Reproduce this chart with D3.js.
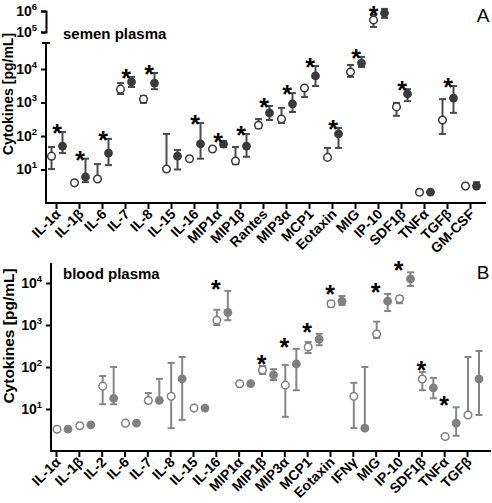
<!DOCTYPE html>
<html><head><meta charset="utf-8">
<script src="https://cdn.jsdelivr.net/npm/d3@7"></script>
<style>
body{margin:0;background:#fff}
text{font-family:"Liberation Sans",Arial,Helvetica,sans-serif}
</style>
</head><body>
<svg id="c" width="492" height="503"></svg>
<script>
// ---------- Panel A: semen plasma ----------
const catsA = ["IL-1α","IL-1β","IL-6","IL-7","IL-8","IL-15","IL-16","MIP1α","MIP1β","Rantes","MIP3α","MCP1","Eotaxin","MIG","IP-10","SDF1β","TNFα","TGFβ","GM-CSF"];
const openA    = [25, 4, 5.2, 2500, 1260, 10.3, 21, 41, 18, 210, 320, 2700, 23, 8100, 370000, 740, 2.1, 300, 3.2];
const openALo  = [10.3, null, null, 1800, 970, null, null, null, 14.5, 173, 245, 1450, null, 5800, 174000, 400, null, 115, null];
const openAHi  = [47, null, 14.5, 3800, 1550, 115, null, null, 47, 320, 690, 3100, 44, 13200, 650000, 970, null, 1260, null];
const filledA   = [50, 6, 31, 4100, 3800, 25, 58, 57, 50, 490, 910, 6200, 115, 15000, 800000, 1800, 2.1, 1360, 3.2];
const filledALo = [31, 4.2, 13.5, 2900, 2500, 10, 21, 47, 24, 300, 520, 3100, 44, 11500, 470000, 1100, null, 490, null];
const filledAHi = [132, 21, 82, 5800, 7600, 38, 245, 71, 115, 790, 1900, 12300, 175, 23000, 1260000, 2500, null, 3100, 4.2];
const starA = [1,1,1,1,1,0,1,1,1,1,1,1,1,1,1,1,0,1,0];
const ticksALow = [10, 100, 1000, 10000];
const ticksAUp = [100000, 1000000];

// ---------- Panel B: blood plasma ----------
const catsB = ["IL-1α","IL-1β","IL-2","IL-6","IL-7","IL-8","IL-15","IL-16","MIP1α","MIP1β","MIP3α","MCP1","Eotaxin","IFNγ","MIG","IP-10","SDF1β","TNFα","TGFβ"];
const openB    = [3.3, 4.0, 35, 4.6, 16, 20, 10.5, 1300, 40, 85, 37, 300, 3200, 20, 610, 4200, 52, 2.2, 7.2];
const openBLo  = [null, null, 13, null, null, 3.5, null, 1000, null, 68, 6.5, 215, 2700, 3.5, 490, 3300, 28, null, null];
const openBHi  = [null, null, 61, null, 24, 125, null, 2300, null, 105, 112, 395, 3700, 42, 1200, 4900, 76, 2.4, 173];
const filledB   = [3.3, 4.2, 18, 4.6, 16, 52, 10.5, 2000, 40, 65, 118, 460, 3700, 3.5, 3700, 12500, 32, 4.6, 52];
const filledBLo = [null, null, 13, null, null, 5.5, null, 1300, null, 49, 28, 330, 3000, null, 2150, 8500, 18, 2.3, 7.2];
const filledBHi = [null, null, 100, null, 52, 173, null, 6500, null, 89, 270, 615, 4900, 100, 5500, 18000, 55, 11, 240];
const starB = [0,0,0,0,0,0,0,1,0,1,1,1,1,0,1,1,1,1,0];
const ticksB = [10, 100, 1000, 10000];

const svg = d3.select("#c");

function supLabels(sel) {
  sel.selectAll(".tick text").each(function(d) {
    const t = d3.select(this);
    t.text(null).attr("font-size", 14).attr("font-weight", "bold").attr("fill", "#000");
    t.append("tspan").text("10");
    t.append("tspan").attr("dy", -6).attr("font-size", 9.5).text(Math.round(Math.log10(d)));
  });
}

function drawPanel(o) {
  const g = svg.append("g");
  const x = d3.scalePoint().domain(o.cats).range(o.xRange);
  const yOf = o.y;

  const la = g.append("g").attr("transform", `translate(${o.axisX},0)`)
    .call(d3.axisLeft(o.yMain).tickValues(o.ticks).tickSize(5).tickSizeOuter(0).tickPadding(4));
  la.select(".domain").remove();
  la.selectAll(".tick line").attr("stroke", "#000").attr("stroke-width", 2);
  supLabels(la);
  g.append("line").attr("x1", o.axisX).attr("x2", o.axisX).attr("y1", o.baseY + 1).attr("y2", o.axisTop)
    .attr("stroke", "#000").attr("stroke-width", 2);
  if (o.topCap) {
    g.append("line").attr("x1", o.axisX - 4).attr("x2", o.axisX + 4).attr("y1", o.axisTop).attr("y2", o.axisTop)
      .attr("stroke", "#000").attr("stroke-width", 2);
  }
  if (o.yUp) {
    const ua = g.append("g").attr("transform", `translate(${o.axisX},0)`)
      .call(d3.axisLeft(o.yUp).tickValues(o.ticksUp).tickSize(5).tickSizeOuter(5).tickPadding(4));
    ua.select(".domain").attr("stroke", "#000").attr("stroke-width", 2).attr("fill", "none");
    ua.selectAll(".tick line").attr("stroke", "#000").attr("stroke-width", 2);
    supLabels(ua);
  }

  const xa = g.append("g").attr("transform", `translate(0,${o.baseY})`)
    .call(d3.axisBottom(x).tickSize(6).tickSizeOuter(0));
  xa.select(".domain").remove();
  xa.selectAll(".tick line").attr("stroke", "#000").attr("stroke-width", 2);
  xa.selectAll(".tick text").attr("x", 0).attr("y", 0).attr("dy", 0)
    .attr("text-anchor", "end").attr("font-size", 14).attr("font-weight", "bold").attr("fill", "#000")
    .attr("transform", "translate(5,12) rotate(-45)");
  g.append("line").attr("x1", o.axisX - 1).attr("x2", o.axisEnd).attr("y1", o.baseY).attr("y2", o.baseY)
    .attr("stroke", "#000").attr("stroke-width", 2);

  const series = [
    {v: o.open, lo: o.openLo, hi: o.openHi, dx: o.openDx, filled: false},
    {v: o.filled, lo: o.filledLo, hi: o.filledHi, dx: o.filledDx, filled: true}
  ];
  const cap = 3.5;
  series.forEach(s => {
    o.cats.forEach((c, i) => {
      const cx = x(c) + s.dx;
      const yv = yOf(s.v[i]);
      const ytop = s.hi[i] != null ? yOf(s.hi[i]) : yv;
      const ybot = s.lo[i] != null ? yOf(s.lo[i]) : yv;
      if (ytop !== ybot) {
        g.append("line").attr("x1", cx).attr("x2", cx).attr("y1", ytop).attr("y2", ybot)
          .attr("stroke", o.barColor).attr("stroke-width", 2);
      }
      if (s.hi[i] != null) g.append("line").attr("x1", cx - cap).attr("x2", cx + cap).attr("y1", ytop).attr("y2", ytop)
        .attr("stroke", o.barColor).attr("stroke-width", 2);
      if (s.lo[i] != null) g.append("line").attr("x1", cx - cap).attr("x2", cx + cap).attr("y1", ybot).attr("y2", ybot)
        .attr("stroke", o.barColor).attr("stroke-width", 2);
    });
  });
  series.forEach(s => {
    o.cats.forEach((c, i) => {
      const cx = x(c) + s.dx;
      g.append("circle").attr("cx", cx).attr("cy", yOf(s.v[i]))
        .attr("r", s.filled ? 4.4 : 3.8)
        .attr("fill", s.filled ? o.fillColor : "#fff")
        .attr("stroke", o.fillColor).attr("stroke-width", s.filled ? 0 : 1.5);
    });
  });

  o.cats.forEach((c, i) => {
    if (!o.star[i]) return;
    const tops = [o.openHi[i] ?? o.open[i], o.filledHi[i] ?? o.filled[i]].map(yOf);
    let cy = Math.min(...tops) - o.starGap;
    let sx = x(c) + o.starDx;
    if (cy < 10) { cy = 10; sx = x(c) + o.openDx; }   // no room above: sit over the open marker
    g.append("text").attr("x", sx).attr("y", cy + 14)
      .attr("text-anchor", "middle").attr("font-size", 25).attr("font-weight", "bold").attr("fill", "#000")
      .text("*");
  });

  g.append("text").attr("x", 63).attr("y", o.titleY).attr("font-size", 15).attr("font-weight", "bold").text(o.title);
  g.append("text").attr("x", 483).attr("y", o.letterY).attr("text-anchor", "middle").attr("font-size", 19).text(o.letter);
  g.append("text").attr("transform", `translate(${o.yTitleX},${o.yTitleY}) rotate(-90)`).attr("text-anchor", "middle")
    .attr("font-size", o.yTitleSize).attr("font-weight", "bold").text("Cytokines [pg/mL]");
}

const yLowA = d3.scaleLog().domain([1, 1e4]).range([203, 69]);
const yUpA = d3.scaleLog().domain([1e5, 1e6]).range([32, 11]);
drawPanel({
  cats: catsA, open: openA, openLo: openALo, openHi: openAHi,
  filled: filledA, filledLo: filledALo, filledHi: filledAHi, star: starA,
  xRange: [56, 470], openDx: -4.5, filledDx: 6.5, starDx: 1, starGap: 4,
  yMain: yLowA, yUp: yUpA, ticks: ticksALow, ticksUp: ticksAUp,
  y: v => v >= 5e4 ? yUpA(v) : yLowA(v),
  axisX: 46, axisTop: 43, topCap: true, baseY: 203, axisEnd: 486,
  barColor: "#4a4a4a", fillColor: "#3a3a3a",
  title: "semen plasma", titleY: 39, letter: "A", letterY: 22,
  yTitleX: 13, yTitleY: 94, yTitleSize: 14
});

const yB = d3.scaleLog().domain([1, 1e4]).range([451, 283]);
drawPanel({
  cats: catsB, open: openB, openLo: openBLo, openHi: openBHi,
  filled: filledB, filledLo: filledBLo, filledHi: filledBHi, star: starB,
  xRange: [56, 467], openDx: 1, filledDx: 12, starDx: 0, starGap: 7,
  yMain: yB, ticks: ticksB, y: v => yB(v),
  axisX: 51, axisTop: 263, topCap: false, baseY: 451, axisEnd: 491,
  barColor: "#868686", fillColor: "#808080",
  title: "blood plasma", titleY: 279, letter: "B", letterY: 279,
  yTitleX: 14, yTitleY: 336, yTitleSize: 15.5
});
</script>
</body></html>
